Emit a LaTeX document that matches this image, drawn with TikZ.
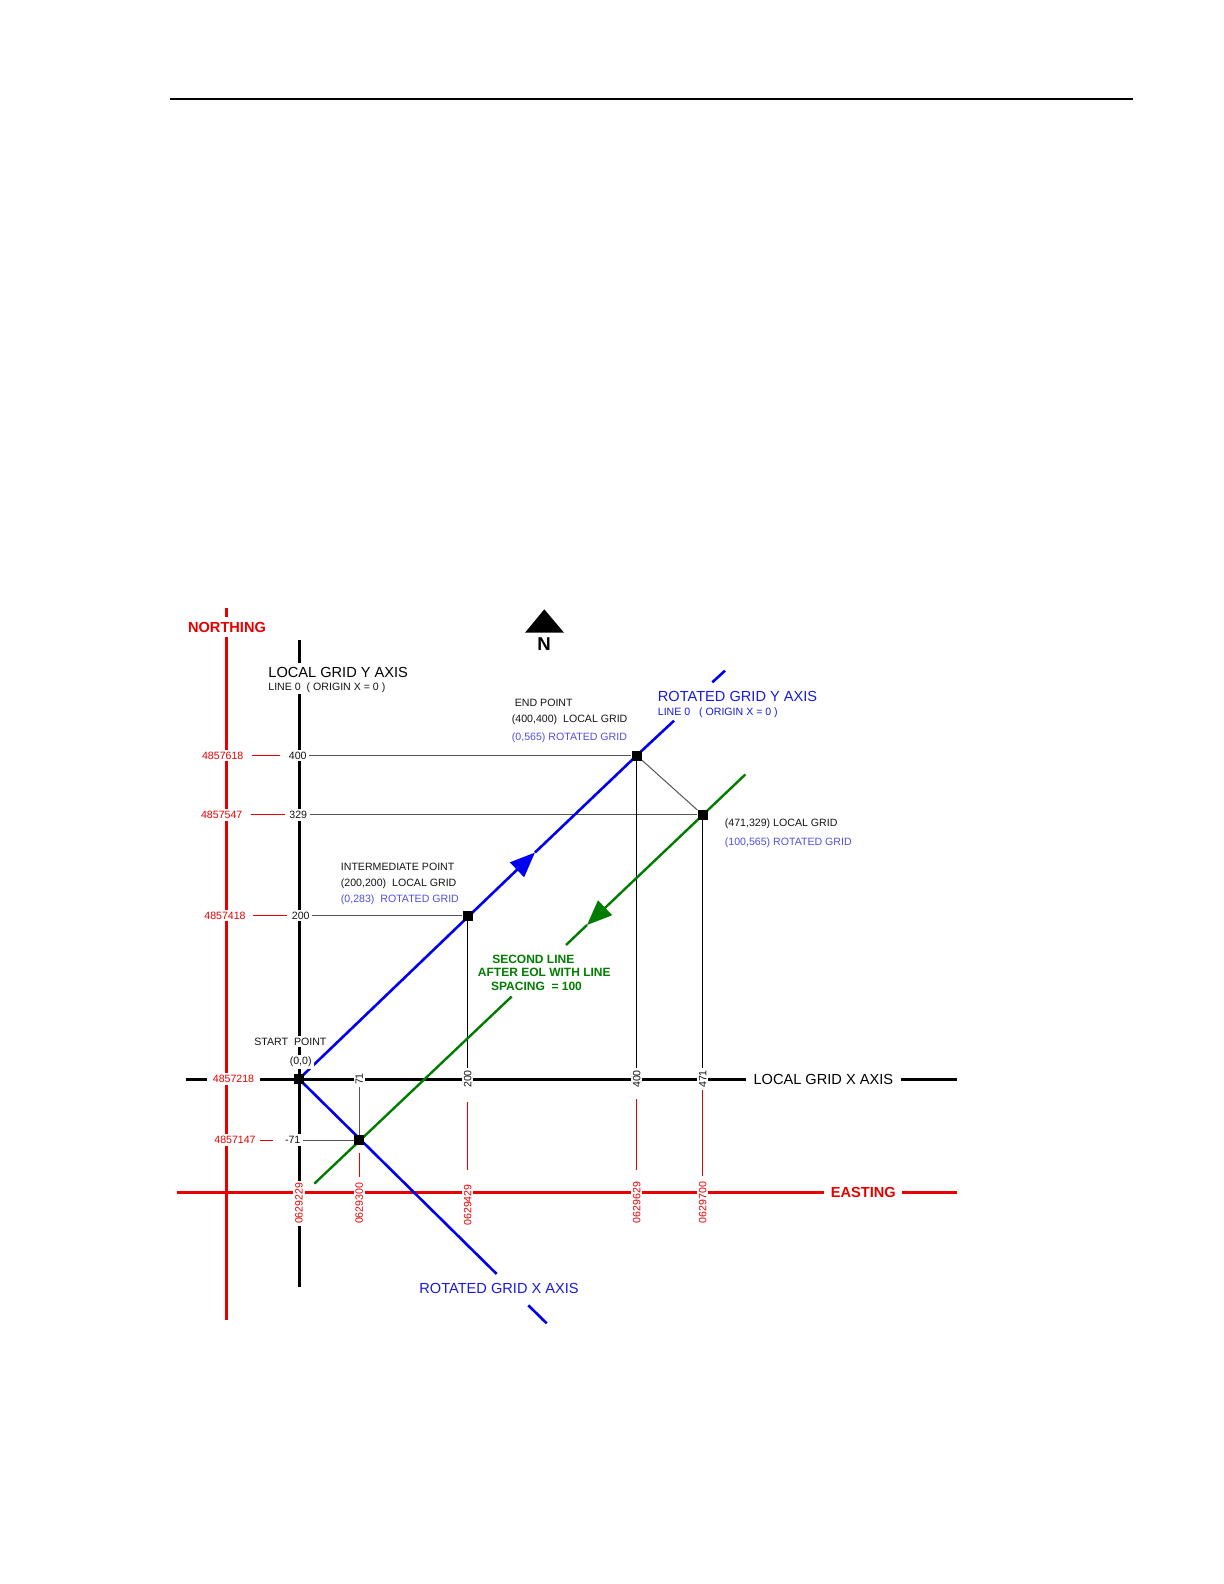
\documentclass[tikz,border=0pt]{standalone}
\usepackage{fontspec}
\setmainfont{Liberation Sans}
\usetikzlibrary{arrows.meta}
\definecolor{nred}{RGB}{232,0,0}
\definecolor{lblue}{RGB}{0,0,240}
\definecolor{tblue}{RGB}{25,25,225}
\definecolor{sblue}{RGB}{80,80,225}
\definecolor{lgreen}{RGB}{0,125,0}
\definecolor{tgrey}{RGB}{85,85,85}
\definecolor{txt}{RGB}{20,20,20}
\begin{document}
\begin{tikzpicture}[x=0.5pt,y=-0.5pt,
  smalltxt/.style={font=\fontsize{5.3}{6}\selectfont, text=txt, inner sep=1pt},
  bigtxt/.style={font=\fontsize{7.3}{8.5}\selectfont, inner sep=1pt},
  greentxt/.style={font=\bfseries\fontsize{6}{7}\selectfont, text=lgreen, inner sep=0pt},
  wbg/.style={fill=white},
  redthick/.style={draw=nred, line width=1.5pt},
  blkthick/.style={draw=black, line width=1.5pt},
  thinblk/.style={draw=black, line width=0.5pt},
  thingry/.style={draw=tgrey, line width=0.5pt},
  redtick/.style={draw=nred, line width=0.5pt},
  blueline/.style={draw=lblue, line width=1.3pt},
  greenline/.style={draw=lgreen, line width=1.2pt},
  ptsq/.style={fill=black, inner sep=0pt, minimum size=5pt},
  tipB/.style={-{Triangle[length=12.5pt,width=10pt]}},
  rot/.style={rotate=90}]
\useasboundingbox (0,0) rectangle (1224,1584);
\fill[white] (0,0) rectangle (1224,1584);

% header rule
\coordinate (hl) at (170,99);
\coordinate (hr) at (1133,99);
\draw[line width=1pt] (hl) -- (hr);

% key points
\coordinate (O) at (299,1079);
\coordinate (P200c) at (467.7,915.7);
\coordinate (PEndc) at (636.7,755.5);
\coordinate (P471c) at (702.7,814.8);
\coordinate (Pm71c) at (359.3,1140);

% main axes
\coordinate (na) at (226.7,608);  \coordinate (nb) at (226.7,1320);
\coordinate (ea) at (177.3,1192.7); \coordinate (eb) at (957.3,1192.7);
\coordinate (ya) at (299,640);    \coordinate (yb) at (299,1286.7);
\coordinate (xa) at (186,1079);   \coordinate (xb) at (957.3,1079);
\draw[redthick] (na) -- (nb);
\draw[redthick] (ea) -- (eb);
\draw[blkthick] (ya) -- (yb);
\draw[blkthick] (xa) -- (xb);

% north arrow
\fill (544.3,609.3) -- (564,632.7) -- (525,632.7) -- cycle;
\node[font=\bfseries\fontsize{9.3}{10}\selectfont, inner sep=0pt] (north) at (544,644) {N};

% points
\node[ptsq] (O2) at (O) {};
\node[ptsq] (P200) at (P200c) {};
\node[ptsq] (PEnd) at (PEndc) {};
\node[ptsq] (P471) at (P471c) {};
\node[ptsq] (Pm71) at (Pm71c) {};

% labels on Y axis and northing
\node[smalltxt,wbg,text=nred] (n618) at (222.7,755.5) {4857618};
\node[smalltxt,wbg,text=nred] (n547) at (221.7,814.8) {4857547};
\node[smalltxt,wbg,text=nred] (n418) at (225,915.7) {4857418};
\node[smalltxt,wbg,text=nred,inner xsep=3pt] (n218) at (233.5,1079) {4857218};
\node[smalltxt,wbg,text=nred] (n147) at (235,1140) {4857147};
\node[smalltxt,wbg] (y400) at (297.7,755.5) {400};
\node[smalltxt,wbg] (y329) at (298.3,814.8) {329};
\node[smalltxt,wbg] (y200) at (300.7,915.7) {200};
\node[smalltxt,wbg] (ym71) at (292.7,1140) {-71};

% horizontal red ticks
\coordinate (rt1a) at (251.7,755.5); \coordinate (rt1b) at (280,755.5);
\coordinate (rt2a) at (250.7,814.8); \coordinate (rt2b) at (285,814.8);
\coordinate (rt3a) at (252.7,915.7); \coordinate (rt3b) at (287.3,915.7);
\coordinate (rt4a) at (260,1140);    \coordinate (rt4b) at (272.7,1140);
\draw[redtick] (rt1a) -- (rt1b);
\draw[redtick] (rt2a) -- (rt2b);
\draw[redtick] (rt3a) -- (rt3b);
\draw[redtick] (rt4a) -- (rt4b);

% grey horizontals
\draw[thingry] (y400) -- (PEnd);
\draw[thingry] (y329) -- (P471);
\draw[thingry] (y200) -- (P200);
\draw[thingry] (ym71) -- (Pm71);
\draw[thingry] (PEnd) -- (P471);

% rotated labels on local X axis
\node[smalltxt,wbg,rot] (x71) at (359.3,1079) {71};
\node[smalltxt,wbg,rot] (x200) at (467.7,1079) {200};
\node[smalltxt,wbg,rot] (x400) at (636.7,1079) {400};
\node[smalltxt,wbg,rot] (x471) at (702.7,1079) {471};
\draw[thingry] (x71) -- (Pm71);
\draw[thinblk] (P200) -- (x200);
\draw[thinblk] (PEnd) -- (x400);
\draw[thinblk] (P471) -- (x471);

% vertical red ticks
\coordinate (vt1a) at (359.3,1153);  \coordinate (vt1b) at (359.3,1176.7);
\coordinate (vt2a) at (467.7,1101.7); \coordinate (vt2b) at (467.7,1170);
\coordinate (vt3a) at (636.7,1099.3); \coordinate (vt3b) at (636.7,1170);
\coordinate (vt4a) at (702.7,1090);  \coordinate (vt4b) at (702.7,1176);
\draw[redtick] (vt1a) -- (vt1b);
\draw[redtick] (vt2a) -- (vt2b);
\draw[redtick] (vt3a) -- (vt3b);
\draw[redtick] (vt4a) -- (vt4b);

% rotated red labels on easting
\node[smalltxt,wbg,rot,text=nred] (e229) at (299,1203.3) {0629229};
\node[smalltxt,wbg,rot,text=nred] (e300) at (359.3,1203.3) {0629300};
\node[smalltxt,wbg,rot,text=nred] (e429) at (467.7,1205) {0629429};
\node[smalltxt,wbg,rot,text=nred] (e629) at (636.7,1202.7) {0629629};
\node[smalltxt,wbg,rot,text=nred] (e700) at (702.7,1202.7) {0629700};

% axis titles
\node[bigtxt,wbg,text=nred,font=\bfseries\fontsize{7.3}{8.5}\selectfont,inner ysep=2.5pt] (northing) at (227,627) {NORTHING};
\node[bigtxt,wbg,text=nred,font=\bfseries\fontsize{7.3}{8.5}\selectfont,inner xsep=3.2pt] (easting) at (863.3,1192.7) {EASTING};
\node[bigtxt,wbg,inner xsep=4pt] (lgx) at (823.3,1079) {LOCAL GRID X AXIS};
\node[bigtxt,wbg,anchor=west,inner ysep=2pt] (lgy) at (266,672) {LOCAL GRID Y AXIS};
\node[smalltxt,wbg,anchor=west] (lgy2) at (266,687.5) {LINE 0\ \ ( ORIGIN X = 0 )};

% rotated grid Y axis (blue) with arrow
\coordinate (tipBc) at (535,852.5);
\coordinate (by1) at (674,720.7);
\coordinate (by2) at (712.3,682.3);
\coordinate (by3) at (725,670.7);
\draw[blueline,tipB] (O) -- (tipBc);
\draw[blueline] (tipBc) -- (PEnd.center) -- (by1);
\draw[blueline] (by2) -- (by3);
\node[bigtxt,text=tblue,anchor=west] (rgy) at (655.5,696) {ROTATED GRID Y AXIS};
\node[smalltxt,text=tblue,anchor=west] (rgy2) at (655.5,712.3) {LINE 0\ \ \ ( ORIGIN X = 0 )};

% rotated grid X axis (blue)
\coordinate (bx1) at (496.7,1274);
\coordinate (bx2) at (528.3,1305.3);
\coordinate (bx3) at (546.7,1323.3);
\draw[blueline] (O) -- (bx1);
\draw[blueline] (bx2) -- (bx3);
\node[bigtxt,text=tblue,anchor=west] (rgx) at (417,1288) {ROTATED GRID X AXIS};

% green second line with arrow
\coordinate (g0) at (745.3,774.5);
\coordinate (tipGc) at (587,925);
\coordinate (g1) at (566,945);
\coordinate (g2) at (511.7,996.5);
\coordinate (g3) at (314.3,1183.7);
\draw[greenline,tipB] (g0) -- (tipGc);
\draw[greenline] (tipGc) -- (g1);
\draw[greenline] (g2) -- (g3);
\node[greentxt] (gt1) at (533.3,959) {SECOND LINE};
\node[greentxt] (gt2) at (544.3,972.7) {AFTER EOL WITH LINE};
\node[greentxt] (gt3) at (536.5,986.7) {SPACING\ \ = 100};

% redraw point squares on top
\node[ptsq] at (O) {};
\node[ptsq] at (P200c) {};
\node[ptsq] at (PEndc) {};
\node[ptsq] at (P471c) {};
\node[ptsq] at (Pm71c) {};

% point descriptions
\node[smalltxt,anchor=west] (ep1) at (512.5,702.7) {END POINT};
\node[smalltxt,anchor=west] (ep2) at (509.5,720) {(400,400)\ \ LOCAL GRID};
\node[smalltxt,anchor=west,text=sblue] (ep3) at (509.5,737.7) {(0,565) ROTATED GRID};
\node[smalltxt,anchor=west] (fp1) at (722.5,824) {(471,329) LOCAL GRID};
\node[smalltxt,anchor=west,text=sblue] (fp2) at (722.5,842.7) {(100,565) ROTATED GRID};
\node[smalltxt,anchor=west] (ip1) at (338.5,866.7) {INTERMEDIATE POINT};
\node[smalltxt,anchor=west] (ip2) at (338.5,883.7) {(200,200)\ \ LOCAL GRID};
\node[smalltxt,anchor=west,text=sblue] (ip3) at (338.5,900) {(0,283)\ \ ROTATED GRID};
\node[smalltxt,wbg,anchor=west] (sp1) at (252,1041.7) {START\ \ POINT};
\node[smalltxt,wbg] (sp2) at (300.7,1061.7) {(0,0)};
\end{tikzpicture}
\end{document}
